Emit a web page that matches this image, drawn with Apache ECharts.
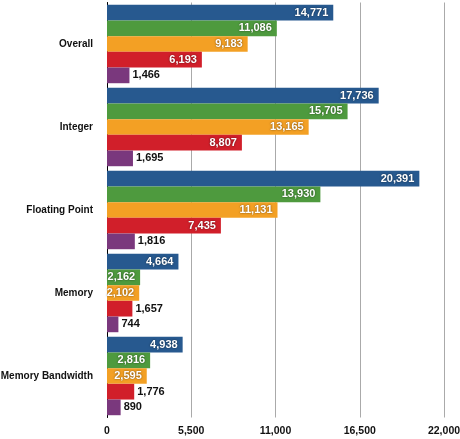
<!DOCTYPE html>
<html><head><meta charset="utf-8">
<script src="https://cdn.jsdelivr.net/npm/echarts@6/dist/echarts.min.js"></script>
<style>html,body{margin:0;padding:0;background:#fff}#c{width:460px;height:439px}</style>
</head><body><div id="c"></div>
<script>
const categories = ['Overall','Integer','Floating Point','Memory','Memory Bandwidth'];
const seriesA = [14771, 17736, 20391, 4664, 4938];
const seriesB = [11086, 15705, 13930, 2162, 2816];
const seriesC = [9183, 13165, 11131, 2102, 2595];
const seriesD = [6193, 8807, 7435, 1657, 1776];
const seriesE = [1466, 1695, 1816, 744, 890];
const xTicks = [0, 5500, 11000, 16500, 22000];
const colors = ['#27598f','#4e9a3e','#f3a024','#d11f2a','#7a387d'];
const FONT = '"Liberation Sans", Arial, sans-serif';
const fmt = v => v.toLocaleString('en-US');
function mk(vals, color){
  return {
    type:'bar', data: vals.map(v => ({
      value: v,
      label: v > 2000 ? {position:'insideRight', distance:5, color:'#fff', textShadowColor:'rgba(0,0,0,0.6)', textShadowBlur:2}
                      : {position:'right', distance:3, color:'#111'}
    })),
    itemStyle:{color}, barGap:'0%', barCategoryGap:'5.5%',
    label:{show:true, fontFamily:FONT, fontWeight:'bold', fontSize:11, formatter: p => fmt(p.value)},
    emphasis:{disabled:true}
  };
}
const chart = echarts.init(document.getElementById('c'));
chart.setOption({
  animation:false,
  grid:{left:107, right:16, top:2.5, bottom:21.5, containLabel:false, outerBoundsMode:'none'},
  xAxis:{type:'value', min:xTicks[0], max:xTicks[xTicks.length-1], interval:5500,
    axisLine:{show:false}, axisTick:{show:false},
    splitLine:{lineStyle:{color:'#aaaaaa', width:1}},
    axisLabel:{fontFamily:FONT, fontWeight:'bold', fontSize:10.5, color:'#111', margin:8, formatter: v => fmt(v)}},
  yAxis:{type:'category', data:categories, inverse:true,
    axisLine:{show:true, lineStyle:{color:'#000', width:1}}, axisTick:{show:false},
    axisLabel:{fontFamily:FONT, fontWeight:'bold', fontSize:10, color:'#111', margin:14}},
  series:[mk(seriesA,colors[0]),mk(seriesB,colors[1]),mk(seriesC,colors[2]),mk(seriesD,colors[3]),mk(seriesE,colors[4])]
});
</script></body></html>
